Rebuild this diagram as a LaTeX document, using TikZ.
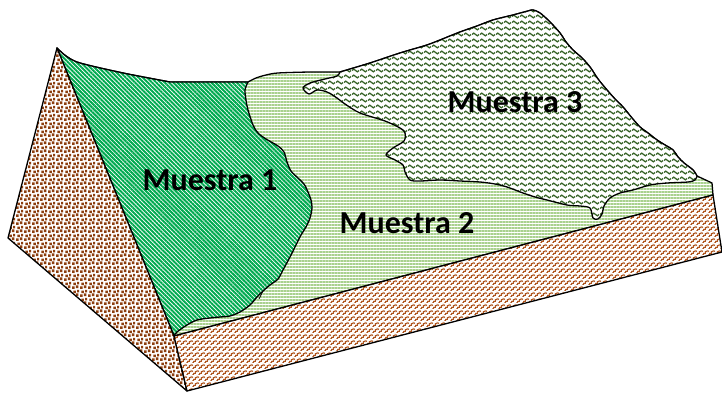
\documentclass[tikz,border=0pt]{standalone}
\usepackage{fontspec}
\setmainfont{Carlito}
\usetikzlibrary{patterns.meta}
\definecolor{mgreen}{RGB}{0,170,80}
\definecolor{lgreen}{RGB}{169,209,142}
\definecolor{dgreen}{RGB}{56,100,40}
\definecolor{dbrown}{RGB}{140,62,15}
\definecolor{lbrown}{RGB}{175,85,30}

\tikzdeclarepattern{
  name=mysquares, type=uncolored,
  bottom left={(0pt,0pt)}, top right={(8pt,8pt)}, tile size={(8pt,8pt)},
  code={
    \fill (0pt,0pt) rectangle (2.9pt,2.9pt);
    \fill (4.2pt,1.1pt) rectangle (7.1pt,4pt);
    \fill (1.4pt,4.3pt) rectangle (4.3pt,7.2pt);
    \fill (5.6pt,5.3pt) rectangle (8pt,8pt);
  }
}
\tikzdeclarepattern{
  name=mywaves, type=uncolored,
  bottom left={(0pt,0pt)}, top right={(8pt,5.5pt)}, tile size={(8pt,5.5pt)},
  code={
    \draw[line width=1.4pt] (0pt,2.75pt) sin (2pt,4.2pt) cos (4pt,2.75pt) sin (6pt,1.3pt) cos (8pt,2.75pt);
  }
}
\tikzdeclarepattern{
  name=myweave, type=uncolored,
  bottom left={(0pt,0pt)}, top right={(6pt,6pt)}, tile size={(6pt,6pt)},
  code={
    \draw[line width=1.2pt] (0pt,0pt) -- (2pt,0pt) -- (2pt,2pt) -- (4pt,2pt) -- (4pt,4pt) -- (6pt,4pt) -- (6pt,6pt);
    \draw[line width=1.2pt] (0pt,4pt) -- (1pt,5pt);
  }
}

\tikzset{
  edge/.style={draw=black, line width=1.3pt, line join=round},
  lbl/.style={font=\bfseries\fontsize{32}{32}\selectfont, text=black, inner sep=0pt},
  mone/.style={preaction={fill=white}, pattern={Lines[angle=-45, distance=3pt, line width=2.0pt]}, pattern color=mgreen},
  mtwo/.style={preaction={fill=white}, pattern={Lines[angle=0, distance=3pt, line width=1.1pt]}, pattern color=lgreen},
  mthree/.style={preaction={fill=white}, pattern=mywaves, pattern color=dgreen},
  sideface/.style={preaction={fill=white}, pattern=mysquares, pattern color=dbrown},
  frontface/.style={preaction={fill=white}, pattern=myweave, pattern color=lbrown}
}

\begin{document}
\begin{tikzpicture}[x=1pt, y=-1pt]
\fill[white] (0,0) rectangle (722,393);
\useasboundingbox (0,0) rectangle (722,393);

\coordinate (apex) at (57,48);
\coordinate (ftl) at (174,336);
\coordinate (ftr) at (713,195);
\coordinate (fbr) at (722,252);
\coordinate (fbl) at (187,391);
\coordinate (lft) at (8,238);

% top surface (Muestra 2)
\path[mtwo, edge]
  plot[smooth, tension=0.5] coordinates {(57,48) (66,56) (80,63) (123,73) (170,82)}
  -- (248,82)
  -- plot[smooth, tension=0.5] coordinates {(248,82) (256,78) (266,75) (278,73) (310,72) (340,72)}
  -- plot[smooth, tension=0.5] coordinates {(340,72) (370,63) (400,53) (427,45) (445,38) (460,32) (477,26) (493,20) (513,15) (528,11) (533,10) (540,13) (550,22) (560,33) (566,42) (573,50) (582,58) (590,67) (598,79) (607,90) (615,99) (623,107) (632,118) (640,127) (648,133) (657,140) (665,145) (673,150) (678,157) (684,163) (693,170) (697,176)}
  -- (712,183) -- (ftr) -- (ftl) -- cycle;

% Muestra 1
\path[mone, edge]
  plot[smooth, tension=0.5] coordinates {(57,48) (66,56) (80,63) (123,73) (170,82)}
  -- (248,82)
  -- plot[smooth, tension=0.5] coordinates {(248,82) (245,90) (246,100) (248,110) (253,125) (258,133) (266,139) (278,146) (284,152) (287,162) (291,171) (298,178) (304,184) (308,192) (311,200) (312,208) (310,218) (306,227) (301,235) (296,245) (290,257) (283,270) (278,279) (270,285) (263,291) (257,297) (250,305) (240,312) (230,316) (220,317) (210,318) (197,320) (187,325) (177,332) (174,336)}
  -- cycle;
\draw[line width=0.8pt] (263,291) -- (259,299);

% Muestra 3
\path[mthree, edge]
  plot[smooth, tension=0.5] coordinates {(340,72) (370,63) (400,53) (427,45) (445,38) (460,32) (477,26) (493,20) (513,15) (528,11) (533,10) (540,13) (550,22) (560,33) (566,42) (573,50) (582,58) (590,67) (598,79) (607,90) (615,99) (623,107) (632,118) (640,127) (648,133) (657,140) (665,145) (673,150) (678,157) (684,163) (693,170) (697,176)}
  -- plot[smooth, tension=0.5] coordinates {(697,176) (695,180) (688,182) (667,183) (650,185) (633,190) (620,193) (610,198) (604,206) (602,214) (598,219) (593,218) (590,208) (580,206) (567,205) (547,200) (535,197) (523,193) (507,187) (495,184) (480,182) (460,181) (440,180) (420,181) (410,180) (405,172) (403,165) (395,160) (386,155) (393,148) (404,141) (405,133) (400,128) (385,121) (360,113) (345,104) (337,98) (327,92) (317,90) (309,94) (303,88) (310,83) (325,79) (337,76) (340,72)}
  -- cycle;

% left face
\path[sideface, edge] (apex) -- (ftl) -- (fbl) -- (lft) -- cycle;
% front face
\path[frontface, edge] (ftl) -- (ftr) -- (fbr) -- (fbl) -- cycle;

\node[lbl, anchor=base] (m1) at (210,190) {Muestra 1};
\node[lbl, anchor=base] (m2) at (407,233) {Muestra 2};
\node[lbl, anchor=base] (m3) at (515,113) {Muestra 3};
\end{tikzpicture}
\end{document}
